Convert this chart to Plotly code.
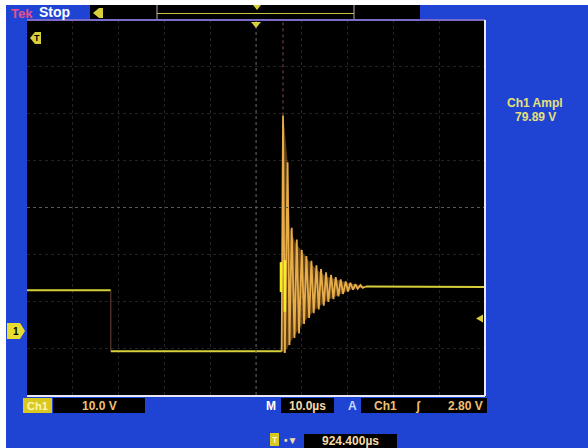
import plotly.graph_objects as go

# ---------------- data ----------------
# time in microseconds (10 us/div, trigger at centre), volts (10 V/div)
high_t = [-50, -31.7]
high_v = [8.7, 8.7]
fall_t = [-31.7, -31.7]
fall_v = [8.7, -4.3]
low_t = [-31.7, 5.6]
low_v = [-4.3, -4.3]
ring_t = [5.6, 5.9, 6.3, 6.9, 7.3, 7.8, 8.4, 8.9, 9.4, 10.0, 10.5, 11.0, 11.6,
          12.1, 12.6, 13.2, 13.7, 14.2, 14.8, 15.3, 15.8, 16.4, 16.9, 17.4,
          18.0, 18.5, 19.0, 19.6, 20.1, 20.6, 21.2, 21.7, 22.2, 22.8, 23.3, 24.0]
ring_v = [-4.3, 46, -4.7, 36, -3.0, 22, -1.5, 19.5, -0.5, 17.3, 1.5, 16, 2.8,
          15, 3.8, 14, 4.6, 13.2, 5.4, 12.5, 6.2, 12, 6.8, 11.5, 7.4, 11, 7.9,
          10.6, 8.4, 10.3, 8.8, 10.0, 9.0, 9.8, 9.2, 9.5]
env_t = [5.7, 6.0, 6.9, 7.4, 8.5, 10.0, 11.5, 13.3, 15.5, 18.3, 20.5, 23.0, 24.0,
         24.0, 21.0, 19.0, 15.5, 12.7, 10.5, 8.4, 7.4, 6.3, 5.7]
env_v = [44, 46, 36, 22, 19, 17, 15, 13, 11.6, 10.8, 10.2, 9.7, 9.5,
         9.3, 8.9, 8.1, 6.5, 4.4, 2.0, -1.0, -2.5, -4.7, -4.5]
tail_t = [24.0, 50]
tail_v = [9.5, 9.4]
spike_t = [5.9, 5.9]
spike_v = [46, 70]
hl_t = [5.45, 5.45, None, 6.3, 6.3]
hl_v = [14.7, 8.3, None, 15.1, 4.1]

x_range = [-50, 50]
y_range = [-13.65, 66.35]

# ---------------- figure ----------------
W, H = 588, 448
L, R, T, B = 27, 485, 20, 395


def px(x):
    return (x - L) / (R - L)


def py(y):
    return (B - y) / (B - T)


BLUE = "#1f44d4"
YEL = "#d8d03a"
ORG = "#e6ad48"
TXT = "#f0c070"

fig = go.Figure()
fig.add_trace(go.Scatter(x=env_t, y=env_v, mode="lines", fill="toself",
                         fillcolor="rgba(170,110,40,0.55)", line=dict(width=0), hoverinfo="skip"))
fig.add_trace(go.Scatter(x=high_t, y=high_v, mode="lines", line=dict(color=YEL, width=2), hoverinfo="skip"))
fig.add_trace(go.Scatter(x=fall_t, y=fall_v, mode="lines", line=dict(color="#6a4438", width=1), hoverinfo="skip"))
fig.add_trace(go.Scatter(x=low_t, y=low_v, mode="lines", line=dict(color=YEL, width=2), hoverinfo="skip"))
fig.add_trace(go.Scatter(x=spike_t, y=spike_v, mode="lines", line=dict(color="#8a4a4a", width=1, dash="dot"), hoverinfo="skip"))
fig.add_trace(go.Scatter(x=ring_t, y=ring_v, mode="lines", line=dict(color=ORG, width=1.8), hoverinfo="skip"))
fig.add_trace(go.Scatter(x=hl_t, y=hl_v, mode="lines", line=dict(color="#f4f020", width=2.5), hoverinfo="skip"))
fig.add_trace(go.Scatter(x=tail_t, y=tail_v, mode="lines", line=dict(color=YEL, width=2), hoverinfo="skip"))

shapes = []


def rect(x0, y0, x1, y1, fill, line=None, lw=0):
    shapes.append(dict(type="rect", xref="paper", yref="paper", x0=px(x0), x1=px(x1),
                       y0=py(y1), y1=py(y0), fillcolor=fill,
                       line=dict(color=line or fill, width=lw), layer="above"))


def seg(x0, y0, x1, y1, color, w=1, dash=None):
    shapes.append(dict(type="line", xref="paper", yref="paper", x0=px(x0), x1=px(x1),
                       y0=py(y0), y1=py(y1), line=dict(color=color, width=w, dash=dash), layer="above"))


def poly(points, fill):
    d = "M " + " L ".join(f"{px(a)},{py(b)}" for a, b in points) + " Z"
    shapes.append(dict(type="path", xref="paper", yref="paper", path=d,
                       fillcolor=fill, line=dict(color=fill, width=0), layer="above"))


# scan margins
rect(0, 0, 588, 5, "white")
rect(0, 0, 6, 448, "white")

# centre cross (dotted)
seg(256, T, 256, B, "#5a5a5a", 1, "dot")
seg(L, 207.5, R, 207.5, "#5a5a5a", 1, "dot")

# plot border
seg(L, T, R, T, "#7c6cc8", 2)
seg(R, T, R, B + 1, "#e8e8f4", 2)
seg(L, B + 1, R, B + 1, "#e8e8f4", 2)

# top record-window bar
rect(90, 5, 420, 19, "black")
seg(157, 5, 157, 19, "#b8a8b8", 1)
seg(354, 5, 354, 19, "#b8a8b8", 1)
seg(157, 13.5, 354, 13.5, "#c8c040", 1)
poly([(253, 5), (261, 5), (257, 10)], YEL)
poly([(93, 13), (99, 8), (103, 8), (103, 18), (99, 18)], YEL)

# trigger position marker at top of plot
poly([(251, 22), (261, 22), (256, 28)], YEL)
# top-left channel marker
poly([(30, 38), (35, 32), (41, 32), (41, 44), (35, 44)], YEL)
# ground marker
poly([(7, 323), (20, 323), (25, 331), (20, 339), (7, 339)], "#e8dc30")
# trigger level marker
poly([(476, 318.5), (483, 314.5), (483, 322.5)], YEL)

# bottom status boxes
rect(23, 398, 52, 413, "#d8c820")
rect(53, 398, 145, 413, "black")
rect(281, 398, 334, 413, "black")
rect(361, 398, 487, 413, "black")
rect(270, 433, 279, 446, "#d8c820")
rect(304, 434, 397, 448, "black")

ann = []
FONT = "Liberation Sans, Arial, sans-serif"


def text(x, y, s, color, size=12, anchor="center", bold=True):
    ann.append(dict(xref="paper", yref="paper", x=px(x), y=py(y), text=f"<b>{s}</b>" if bold else s,
                    showarrow=False, xanchor=anchor, yanchor="middle",
                    font=dict(family=FONT, size=size, color=color)))


text(9, 13, "Tek", "#e8508c", 13, "left")
text(37, 12, "Stop", "white", 14, "left")
text(16, 331, "1", "black", 10)
text(37, 38, "T", "black", 9)
text(535, 103, "Ch1 Ampl", "#e6e078", 12)
text(535, 117, "79.89 V", "#e6e078", 12)
text(37.5, 405.5, "Ch1", "#fff6b0", 11)
text(99, 405.5, "10.0 V", TXT, 12)
text(271, 405.5, "M", "white", 12)
text(307.5, 405.5, "10.0µs", "#f4dca8", 12)
text(352, 405.5, "A", "#c8d8ff", 12)
text(372, 405.5, "Ch1", TXT, 12, "left")
text(413, 405.5, "ʃ", TXT, 12, "left")
text(485, 405.5, "2.80 V", TXT, 12, "right")
text(274.5, 440, "T", "#fff6b0", 9)
text(290, 440, "•▼", "#f4dca8", 10)
text(350, 441, "924.400µs", "#f4dca8", 12)

fig.update_layout(
    width=W, height=H,
    margin=dict(l=L, r=W - R, t=T, b=H - B),
    paper_bgcolor=BLUE, plot_bgcolor="black",
    showlegend=False,
    shapes=shapes, annotations=ann,
    xaxis=dict(range=x_range, tick0=-50, dtick=10, showgrid=True, gridcolor="#222222",
               griddash="dot", zeroline=False, showticklabels=False, ticks="", fixedrange=True),
    yaxis=dict(range=y_range, tick0=-13.65, dtick=10, showgrid=True, gridcolor="#222222",
               griddash="dot", zeroline=False, showticklabels=False, ticks="", fixedrange=True),
)

fig.write_html("out.html", config=dict(displayModeBar=False),
               post_script="document.body.style.margin='0';document.body.style.overflow='hidden';")
